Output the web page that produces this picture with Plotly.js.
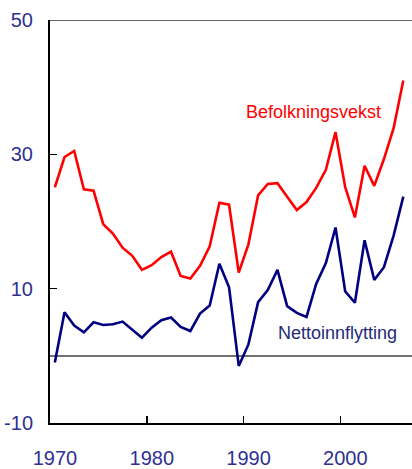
<!DOCTYPE html>
<html>
<head>
<meta charset="utf-8">
<script src="https://cdn.plot.ly/plotly-3.0.1.min.js"></script>
<style>html,body{margin:0;padding:0;background:#fff;}#chart{width:412px;height:469px;}</style>
</head>
<body>
<div id="chart"></div>
<script>
// Years (points plotted at mid-year)
var years = [1970,1971,1972,1973,1974,1975,1976,1977,1978,1979,1980,1981,1982,1983,1984,1985,1986,1987,1988,1989,1990,1991,1992,1993,1994,1995,1996,1997,1998,1999,2000,2001,2002,2003,2004,2005,2006];
var befolkningsvekst = [25.1,29.6,30.5,24.8,24.6,19.6,18.2,16.1,14.9,12.8,13.5,14.7,15.5,11.9,11.5,13.4,16.3,22.8,22.5,12.4,16.6,23.9,25.6,25.7,23.7,21.7,22.9,25.0,27.7,33.3,25.1,20.6,28.3,25.3,29.3,33.9,41.0];
var nettoinnflytting = [-1.0,6.5,4.5,3.5,5.0,4.6,4.7,5.1,3.9,2.7,4.2,5.3,5.7,4.3,3.7,6.3,7.5,13.7,10.2,-1.5,1.7,8.0,9.8,12.8,7.4,6.4,5.8,10.7,13.8,19.1,9.6,7.9,17.2,11.3,13.2,17.9,23.7];
var yTicks = [-10,10,30,50];
var xTicks = [1970,1980,1990,2000];
var seriesNames = ["Befolkningsvekst","Nettoinnflytting"];

var xMid = years.map(function(y){return y+0.5;});
var tickFont = {family:"'Liberation Sans Narrow','Arial Narrow','Liberation Sans',Arial,sans-serif", size:20, color:"#2e3192"};

var traces = [
  {x:xMid, y:befolkningsvekst, type:"scatter", mode:"lines", name:seriesNames[0], line:{color:"#ff0000", width:2.6}, hoverinfo:"skip"},
  {x:xMid, y:nettoinnflytting, type:"scatter", mode:"lines", name:seriesNames[1], line:{color:"#000080", width:2.6}, hoverinfo:"skip"}
];

var layout = {
  width:412, height:469,
  margin:{l:50, r:0, t:20, b:46},
  paper_bgcolor:"#fff", plot_bgcolor:"#fff",
  showlegend:false,
  xaxis:{range:[1970,2007.4], tickvals:xTicks, ticktext:xTicks.map(String), ticks:"inside", ticklen:7, tickwidth:1.5, tickcolor:"#000",
         showline:true, linecolor:"#000", linewidth:2, showgrid:false, zeroline:false, tickfont:tickFont, ticklabelstandoff:16, ticklabelshift:5, fixedrange:true},
  yaxis:{range:[-10,50], tickvals:yTicks, ticktext:yTicks.map(String), ticks:"inside", ticklen:7, tickwidth:1.5, tickcolor:"#000",
         showline:true, linecolor:"#000", linewidth:2, showgrid:false, zeroline:true, zerolinecolor:"#707070", zerolinewidth:1.5,
         tickfont:tickFont, ticklabelstandoff:11, fixedrange:true},
  shapes:[{type:"line", xref:"paper", yref:"y", x0:0, x1:1, y0:50, y1:50, line:{color:"#333", width:1.5}}],
  annotations:[
    {x:1997.27, y:36.3, xref:"x", yref:"y", text:seriesNames[0], showarrow:false, font:{family:"'Liberation Sans',Arial,sans-serif", size:18, color:"#ff0000"}},
    {x:1999.7, y:3.35, xref:"x", yref:"y", text:seriesNames[1], showarrow:false, font:{family:"'Liberation Sans',Arial,sans-serif", size:18, color:"#1f2a78"}}
  ]
};

Plotly.newPlot("chart", traces, layout, {displayModeBar:false, staticPlot:true});
</script>
</body>
</html>
